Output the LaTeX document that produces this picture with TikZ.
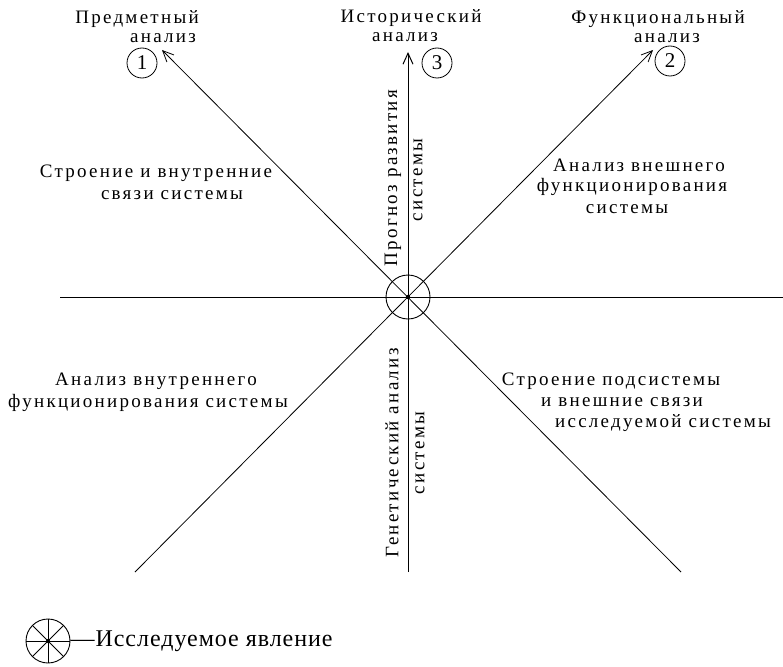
\documentclass[tikz,border=0pt]{standalone}
\usepackage{fontspec}
\setmainfont{Liberation Serif}[LetterSpace=12]
\newfontfamily\legfont{Liberation Serif}[LetterSpace=4]
\usetikzlibrary{arrows.meta}
\tikzset{
  lbl/.style={inner sep=0pt, anchor=base, font=\fontsize{19}{21}\selectfont},
  vlbl/.style={inner sep=0pt, rotate=90, font=\fontsize{19}{21}\selectfont},
  axis/.style={line width=1pt, black},
  diag/.style={line width=0.8pt, black},
  arr/.style={-{Straight Barb[length=11pt,width=10pt]}},
  num/.style={circle, draw, line width=0.8pt, minimum size=30pt, inner sep=0pt, font=\fontsize{21}{23}\selectfont},
  phen/.style={circle, draw, line width=0.9pt, minimum size=44pt, inner sep=0pt}
}
\begin{document}
\begin{tikzpicture}[x=1pt,y=-1pt]
\useasboundingbox (0,0) rectangle (783,666);
% centre
\node[phen] (c) at (408,297) {};
\coordinate (ul) at (162,50);
\coordinate (up) at (408,52);
\coordinate (ur) at (653,50);
\coordinate (le) at (60,297);
\coordinate (ri) at (783,297);
\coordinate (dl) at (135,572);
\coordinate (dn) at (408,572);
\coordinate (dr) at (681,572);
\draw[axis] (le) -- (ri);
\draw[axis,arr] (dn) -- (up);
\draw[diag,arr] (dr) -- (ul);
\draw[diag,arr] (dl) -- (ur);
\fill (c.center) circle (2.2pt);
% numbers
\node[num] (n1) at (142,63) {1};
\node[num] (n3) at (437,63) {3};
\node[num] (n2) at (670,61) {2};
% titles
\node[lbl] (t1a) at (137,24) {Предметный};
\node[lbl] (t1b) at (163,43) {анализ};
\node[lbl] (t3a) at (411,23) {Исторический};
\node[lbl] (t3b) at (405,42) {анализ};
\node[lbl] (t2a) at (658,24) {Функциональный};
\node[lbl] (t2b) at (667,43) {анализ};
% quadrant labels
\node[lbl] (q1a) at (156,177) {Строение и внутренние};
\node[lbl] (q1b) at (172,199) {связи системы};
\node[lbl] (q2a) at (639,171) {Анализ внешнего};
\node[lbl] (q2b) at (632,191) {функционирования};
\node[lbl] (q2c) at (627,213) {системы};
\node[lbl] (q3a) at (156,385) {Анализ внутреннего};
\node[lbl] (q3b) at (148,407) {функционирования системы};
\node[lbl] (q4a) at (611,385) {Строение подсистемы};
\node[lbl] (q4b) at (622,406) {и внешние связи};
\node[lbl] (q4c) at (663,427) {исследуемой системы};
% vertical labels
\node[vlbl] (v1a) at (393,178) {Прогноз развития};
\node[vlbl] (v1b) at (418,180) {системы};
\node[vlbl] (v2a) at (392,453) {Генетический анализ};
\node[vlbl] (v2b) at (420,453) {системы};
% legend
\node[phen] (lg) at (48,641) {};
\draw[line width=0.8pt] (lg.north) -- (lg.south);
\draw[line width=0.8pt] (lg.west) -- (lg.east);
\draw[line width=0.8pt] (lg.north west) -- (lg.south east);
\draw[line width=0.8pt] (lg.north east) -- (lg.south west);
\fill (lg.center) circle (2pt);
\node[inner sep=0pt, anchor=west, font=\legfont\fontsize{24}{26}\selectfont] (lt) at (lg.east) {—Исследуемое явление};
\end{tikzpicture}
\end{document}
